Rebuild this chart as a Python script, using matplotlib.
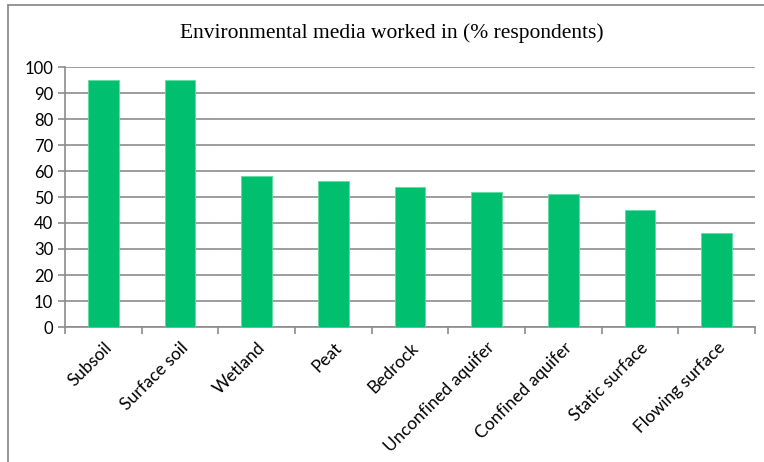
import matplotlib.pyplot as plt
from matplotlib.patches import Rectangle
import numpy as np

categories = ['Subsoil', 'Surface soil', 'Wetland', 'Peat', 'Bedrock',
              'Unconfined aquifer', 'Confined aquifer', 'Static surface',
              'Flowing surface']
values = [95, 95, 58, 56, 54, 52, 51, 45, 36]
yticks = [0, 10, 20, 30, 40, 50, 60, 70, 80, 90, 100]

fig = plt.figure(figsize=(7.64, 4.62), dpi=100)

# outer chart frame (runs off the right / bottom edge)
fig.patches.append(Rectangle((8/764, -0.05), 1.0, 1 - 5/462 + 0.05,
                             transform=fig.transFigure, fill=False,
                             edgecolor='#8c8c8c', linewidth=1.3))

ax = fig.add_axes([65/764, 1 - 327/462, 690/764, 260/462])

x = np.arange(len(categories))
ax.bar(x, values, width=0.4, color='#00bf6f', edgecolor='#5fdca0',
       linewidth=0.6, zorder=3)

ax.set_xlim(-0.5, len(categories) - 0.5)
ax.set_ylim(0, 100)
ax.set_yticks(yticks)
ax.yaxis.grid(True, color='#8c8c8c', linewidth=1.2, zorder=0)

# ticks between categories, labels centred under bars
ax.set_xticks(np.arange(len(categories) + 1) - 0.5)
ax.set_xticklabels([])
ax.set_xticks(x, minor=True)
ax.set_xticklabels(categories, minor=True, rotation=45, ha='right',
                   rotation_mode='anchor', fontsize=12.5, family='Lato')
ax.tick_params(axis='x', which='minor', length=0, pad=9)
ax.tick_params(axis='x', which='major', length=5, color='#8c8c8c', width=1.2)
ax.tick_params(axis='y', length=5, color='#8c8c8c', width=1.2, labelsize=12)
for lab in ax.get_yticklabels():
    lab.set_family('Lato')

for s in ['top', 'right']:
    ax.spines[s].set_visible(False)
for s in ['left', 'bottom']:
    ax.spines[s].set_color('#8c8c8c')
    ax.spines[s].set_linewidth(1.2)

fig.text(392/764, 1 - 33/462, 'Environmental media worked in (% respondents)',
         ha='center', va='center', fontsize=15.5, family='Liberation Serif')

fig.savefig('out.png', dpi=100)
